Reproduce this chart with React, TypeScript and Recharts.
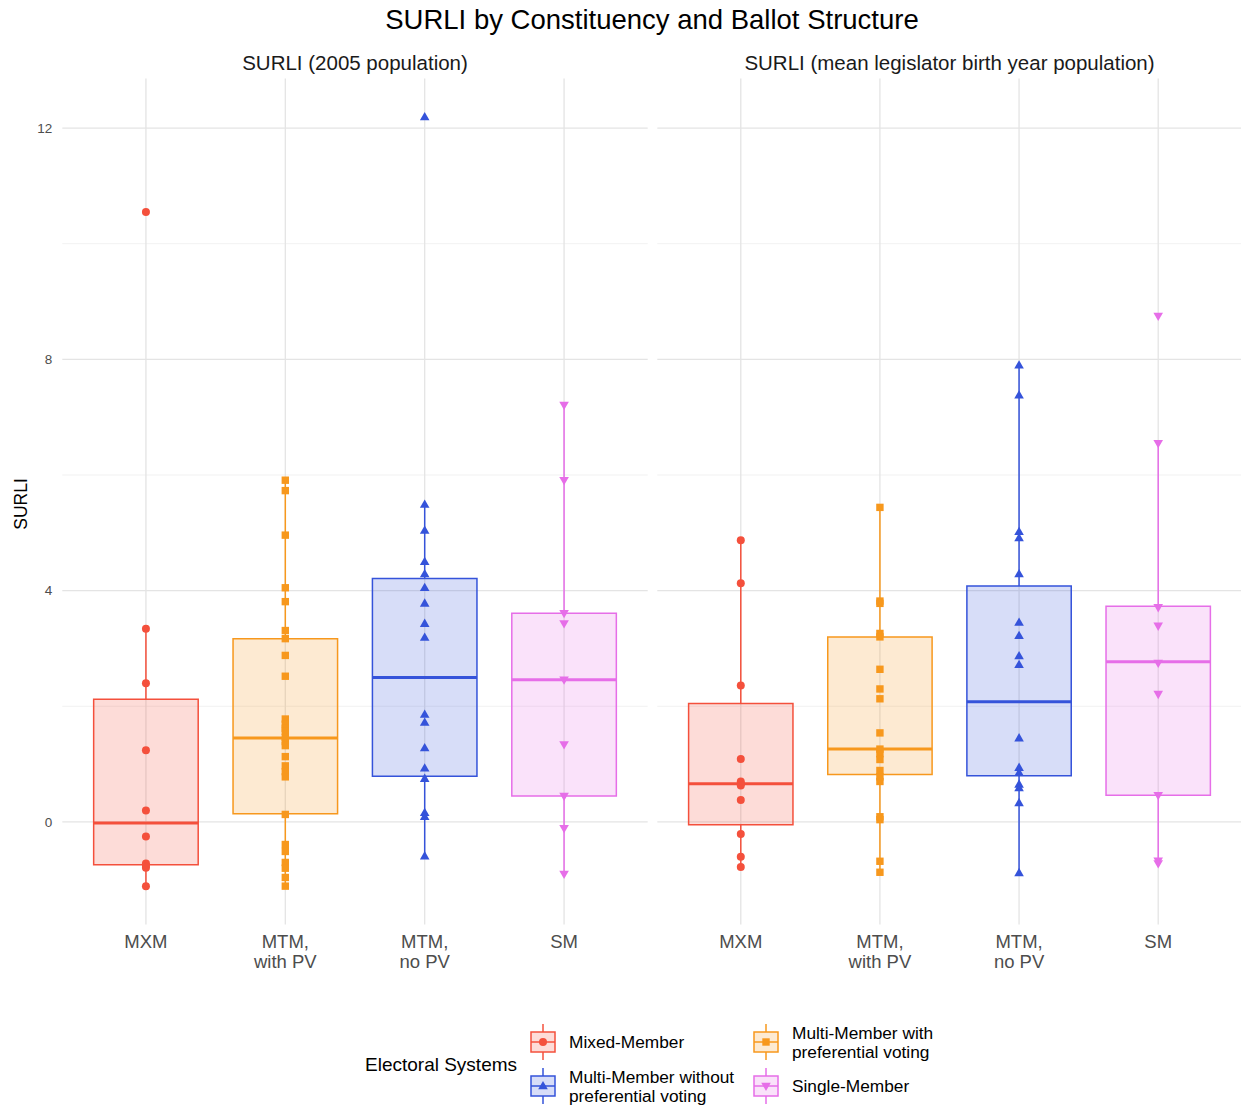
import React from "react";
import {
  ComposedChart,
  Scatter,
  XAxis,
  YAxis,
  CartesianGrid,
  ReferenceArea,
  ReferenceLine,
} from "recharts";

const categories = ["MXM", "MTM,\nwith PV", "MTM,\nno PV", "SM"];
const colors = ["#F4503C", "#F7981D", "#3553DA", "#E66EE8"];
const shapes = ["circle", "square", "triangle", "triangleDown"];
const majorTicks = [0, 4, 8, 12];
const minorTicks = [2, 6, 10];
const panelTitles = ["SURLI (2005 population)", "SURLI (mean legislator birth year population)"];

// SURLI, 2005 population
const mxm2005 = [10.55, 3.34, 2.4, 1.24, 0.2, -0.25, -0.72, -0.76, -0.79, -1.11];
const mtmPv2005 = [
  5.91, 5.73, 4.96, 4.05, 3.81, 3.31, 3.17, 2.88, 2.52, 1.78, 1.69, 1.62, 1.57, 1.46,
  1.39, 1.32, 1.13, 0.97, 0.87, 0.78, 0.13, -0.39, -0.51, -0.7, -0.8, -0.96, -1.11,
];
const mtmNoPv2005 = [
  12.19, 5.49, 5.04, 4.5, 4.29, 4.05, 3.78, 3.43, 3.19, 1.86, 1.72, 1.28, 0.93, 0.75,
  0.16, 0.09, -0.59,
];
const sm2005 = [7.21, 5.91, 3.61, 3.43, 2.46, 1.34, 0.45, -0.11, -0.9];
const q1_2005 = [-0.74, 0.14, 0.79, 0.45];
const median2005 = [-0.02, 1.45, 2.5, 2.46];
const q3_2005 = [2.12, 3.17, 4.21, 3.61];
const lower2005 = [-1.11, -1.11, -0.59, -0.9];
const upper2005 = [3.34, 5.91, 5.49, 7.21];

// SURLI, mean legislator birth year population
const mxmBirth = [4.87, 4.13, 2.36, 1.09, 0.7, 0.66, 0.63, 0.38, -0.21, -0.6, -0.78];
const mtmPvBirth = [
  5.44, 3.82, 3.78, 3.26, 3.2, 2.64, 2.3, 2.13, 1.54, 1.26, 1.18, 1.08, 0.89, 0.78, 0.7,
  0.09, 0.04, -0.68, -0.87,
];
const mtmNoPvBirth = [
  7.9, 7.38, 5.02, 4.91, 4.29, 3.45, 3.22, 2.87, 2.72, 1.45, 0.94, 0.85, 0.65, 0.59, 0.33,
  -0.88,
];
const smBirth = [8.75, 6.55, 3.71, 3.39, 2.75, 2.21, 0.46, -0.67, -0.72];
const q1Birth = [-0.05, 0.82, 0.8, 0.46];
const medianBirth = [0.66, 1.26, 2.08, 2.77];
const q3Birth = [2.05, 3.2, 4.08, 3.73];
const lowerBirth = [-0.78, -0.87, -0.88, -0.72];
const upperBirth = [4.87, 5.44, 7.9, 6.55];

const legendItems = [
  { label: ["Mixed-Member"], group: 0 },
  { label: ["Multi-Member with", "preferential voting"], group: 1 },
  { label: ["Multi-Member without", "preferential voting"], group: 2 },
  { label: ["Single-Member"], group: 3 },
];

const FONT = "'Liberation Sans', Arial, Helvetica, sans-serif";
const HALF_BOX = 0.375;
const Y_DOMAIN: [number, number] = [-1.775, 12.855];

function Marker({ cx, cy, shape, color }: { cx: number; cy: number; shape: string; color: string }) {
  if (shape === "circle") return <circle cx={cx} cy={cy} r={4} fill={color} />;
  if (shape === "square")
    return <rect x={cx - 3.7} y={cy - 3.7} width={7.4} height={7.4} fill={color} />;
  if (shape === "triangle")
    return (
      <polygon
        points={`${cx},${cy - 5} ${cx + 4.8},${cy + 3.3} ${cx - 4.8},${cy + 3.3}`}
        fill={color}
      />
    );
  return (
    <polygon
      points={`${cx},${cy + 5} ${cx + 4.8},${cy - 3.3} ${cx - 4.8},${cy - 3.3}`}
      fill={color}
    />
  );
}

function CategoryTick(props: any) {
  const { x, y, payload } = props;
  const lines = categories[payload.value - 1].split("\n");
  return (
    <text x={x} y={y} textAnchor="middle" fill="#4D4D4D" fontSize={18.5} fontFamily={FONT}>
      {lines.map((line, i) => (
        <tspan key={i} x={x} dy={i === 0 ? 23 : 20.5}>
          {line}
        </tspan>
      ))}
    </text>
  );
}

type PanelProps = {
  points: number[][];
  q1: number[];
  median: number[];
  q3: number[];
  lower: number[];
  upper: number[];
  showAxis: boolean;
  width: number;
  margin: { top: number; right: number; bottom: number; left: number };
};

function Panel({ points, q1, median, q3, lower, upper, showAxis, width, margin }: PanelProps) {
  return (
    <ComposedChart width={width} height={1000} margin={margin}>
      <CartesianGrid
        stroke="#EEEEEE"
        strokeWidth={0.8}
        vertical={false}
        horizontalValues={minorTicks}
      />
      <CartesianGrid
        stroke="#E4E4E4"
        strokeWidth={1.3}
        horizontalValues={majorTicks}
        verticalValues={[1, 2, 3, 4]}
      />
      <XAxis
        type="number"
        dataKey="x"
        domain={[0.4, 4.6]}
        ticks={[1, 2, 3, 4]}
        interval={0}
        axisLine={false}
        tickLine={false}
        tickSize={0}
        tickMargin={0}
        height={60}
        tick={<CategoryTick />}
        allowDataOverflow
      />
      <YAxis
        type="number"
        dataKey="y"
        domain={Y_DOMAIN}
        ticks={majorTicks}
        interval={0}
        axisLine={false}
        tickLine={false}
        tickSize={0}
        tickMargin={10}
        width={50}
        hide={!showAxis}
        tick={{ fill: "#4D4D4D", fontSize: 13.5, fontFamily: FONT }}
        allowDataOverflow
      />
      {categories.map((_, i) => (
        <ReferenceArea
          key={`box-${i}`}
          x1={i + 1 - HALF_BOX}
          x2={i + 1 + HALF_BOX}
          y1={q1[i]}
          y2={q3[i]}
          fill={colors[i]}
          fillOpacity={0.2}
          stroke={colors[i]}
          strokeWidth={1.5}
          strokeOpacity={1}
          ifOverflow="visible"
        />
      ))}
      {categories.map((_, i) => (
        <ReferenceLine
          key={`up-${i}`}
          segment={[
            { x: i + 1, y: q3[i] },
            { x: i + 1, y: upper[i] },
          ]}
          stroke={colors[i]}
          strokeWidth={1.5}
          ifOverflow="visible"
        />
      ))}
      {categories.map((_, i) => (
        <ReferenceLine
          key={`low-${i}`}
          segment={[
            { x: i + 1, y: q1[i] },
            { x: i + 1, y: lower[i] },
          ]}
          stroke={colors[i]}
          strokeWidth={1.5}
          ifOverflow="visible"
        />
      ))}
      {categories.map((_, i) => (
        <ReferenceLine
          key={`med-${i}`}
          segment={[
            { x: i + 1 - HALF_BOX, y: median[i] },
            { x: i + 1 + HALF_BOX, y: median[i] },
          ]}
          stroke={colors[i]}
          strokeWidth={3}
          ifOverflow="visible"
        />
      ))}
      {points.map((values, i) => (
        <Scatter
          key={`pts-${i}`}
          data={values.map((v) => ({ x: i + 1, y: v }))}
          isAnimationActive={false}
          shape={(p: any) => <Marker cx={p.cx} cy={p.cy} shape={shapes[i]} color={colors[i]} />}
        />
      ))}
    </ComposedChart>
  );
}

function LegendKey({ cx, cy, group }: { cx: number; cy: number; group: number }) {
  const c = colors[group];
  return (
    <g>
      <line x1={cx} x2={cx} y1={cy - 18} y2={cy - 10} stroke={c} strokeWidth={1.5} />
      <line x1={cx} x2={cx} y1={cy + 10} y2={cy + 18} stroke={c} strokeWidth={1.5} />
      <rect
        x={cx - 12}
        y={cy - 10}
        width={24}
        height={20}
        fill={c}
        fillOpacity={0.2}
        stroke={c}
        strokeWidth={1.5}
      />
      <line x1={cx - 12} x2={cx + 12} y1={cy} y2={cy} stroke={c} strokeWidth={1.5} />
      <Marker cx={cx} cy={cy} shape={shapes[group]} color={c} />
    </g>
  );
}

export default function App() {
  const legendPos = [
    { kx: 543, ky: 1042 },
    { kx: 766, ky: 1042 },
    { kx: 543, ky: 1086 },
    { kx: 766, ky: 1086 },
  ];
  return (
    <div
      style={{
        position: "absolute",
        left: 0,
        top: 0,
        width: 1241,
        height: 1106,
        background: "#FFFFFF",
        fontFamily: FONT,
        overflow: "hidden",
      }}
    >
      <div style={{ position: "absolute", left: 0, top: 0 }}>
        <Panel
          points={[mxm2005, mtmPv2005, mtmNoPv2005, sm2005]}
          q1={q1_2005}
          median={median2005}
          q3={q3_2005}
          lower={lower2005}
          upper={upper2005}
          showAxis
          width={660}
          margin={{ top: 78.6, right: 12.3, bottom: 15.4, left: 12.3 }}
        />
      </div>
      <div style={{ position: "absolute", left: 645, top: 0 }}>
        <Panel
          points={[mxmBirth, mtmPvBirth, mtmNoPvBirth, smBirth]}
          q1={q1Birth}
          median={medianBirth}
          q3={q3Birth}
          lower={lowerBirth}
          upper={upperBirth}
          showAxis={false}
          width={596.7}
          margin={{ top: 78.6, right: 0, bottom: 15.4, left: 12.3 }}
        />
      </div>
      <svg
        width={1241}
        height={1106}
        style={{ position: "absolute", left: 0, top: 0, pointerEvents: "none" }}
      >
        <text x={652} y={29} textAnchor="middle" fontSize={27.5} fill="#000000">
          SURLI by Constituency and Ballot Structure
        </text>
        <text x={355} y={70} textAnchor="middle" fontSize={20.5} fill="#1A1A1A">
          {panelTitles[0]}
        </text>
        <text x={949.5} y={70} textAnchor="middle" fontSize={20.5} fill="#1A1A1A">
          {panelTitles[1]}
        </text>
        <text
          x={0}
          y={0}
          transform="translate(27,504) rotate(-90)"
          textAnchor="middle"
          fontSize={17.5}
          fill="#000000"
        >
          SURLI
        </text>
        <text x={365} y={1070.5} fontSize={19} fill="#000000">
          Electoral Systems
        </text>
        {legendItems.map((item, i) => {
          const { kx, ky } = legendPos[i];
          const n = item.label.length;
          return (
            <g key={i}>
              <LegendKey cx={kx} cy={ky} group={item.group} />
              <text x={kx + 26} y={ky + 6 - (n - 1) * 9.5} fontSize={17.3} fill="#000000">
                {item.label.map((l, j) => (
                  <tspan key={j} x={kx + 26} dy={j === 0 ? 0 : 19}>
                    {l}
                  </tspan>
                ))}
              </text>
            </g>
          );
        })}
      </svg>
    </div>
  );
}
